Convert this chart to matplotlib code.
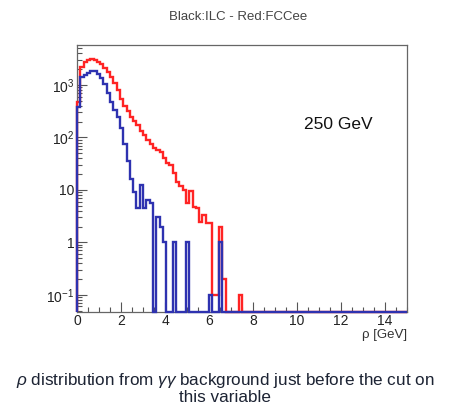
import numpy as np
import matplotlib
matplotlib.use("Agg")
import matplotlib.pyplot as plt
from matplotlib.ticker import FixedLocator, FixedFormatter, MultipleLocator, NullFormatter

plt.rcParams['font.family'] = ['Liberation Sans', 'DejaVu Sans']
plt.rcParams['mathtext.fontset'] = 'custom'
plt.rcParams['mathtext.rm'] = 'Liberation Sans'
plt.rcParams['mathtext.it'] = 'Liberation Sans:italic'

# histogram binning (rho in GeV)
bin_lo, bin_hi, n_bins = 0.0, 15.0, 100

# ILC (blue) per-bin contents
ilc = [380, 1400, 1550, 1700, 1850, 1820, 1650, 1350, 1050, 700,
       480, 330, 250, 150, 75, 35, 16, 9, 4.6, 12.6,
       4.6, 6.4, 5.6, 0, 3, 2, 1, 0, 0, 1,
       0, 0, 0, 1, 0, 0, 0, 0, 0, 0,
       0.1, 0, 0, 1, 0, 0, 0, 0, 0, 0,
       0, 0, 0, 0, 0, 0, 0, 0, 0, 0,
       0, 0, 0, 0, 0, 0, 0, 0, 0, 0,
       0, 0, 0, 0, 0, 0, 0, 0, 0, 0,
       0, 0, 0, 0, 0, 0, 0, 0, 0, 0,
       0, 0, 0, 0, 0, 0, 0, 0, 0, 0]

# FCCee (red) per-bin contents
fccee = [480, 2200, 2700, 3050, 3200, 3050, 2800, 2500, 2150, 1750,
         1400, 1100, 800, 550, 400, 320, 250, 210, 170, 135,
         110, 90, 75, 62, 58, 52, 40, 33, 30, 21,
         14, 12, 10, 5.6, 9.5, 4.7, 4.5, 2.4, 3.3, 2.3,
         2.3, 0.1, 0.1, 2, 0.2, 0, 0, 0, 0, 0.1,
         0, 0, 0, 0, 0, 0, 0, 0, 0, 0,
         0, 0, 0, 0, 0, 0, 0, 0, 0, 0,
         0, 0, 0, 0, 0, 0, 0, 0, 0, 0,
         0, 0, 0, 0, 0, 0, 0, 0, 0, 0,
         0, 0, 0, 0, 0, 0, 0, 0, 0, 0]

ytick_vals = [0.1, 1, 10, 100, 1000]
ytick_labels = ['$10^{-1}$', '1', '10', '$10^{2}$', '$10^{3}$']
xtick_vals = [0, 2, 4, 6, 8, 10, 12, 14]

title = 'Black:ILC - Red:FCCee'
energy_label = '250 GeV'
xlabel = 'ρ [GeV]'
caption = '$\\rho$ distribution from $\\gamma\\gamma$ background just before the cut on\nthis variable'

YMIN, YMAX = 0.047, 5800

W, H = 449, 411
fig = plt.figure(figsize=(W / 100, H / 100), dpi=100)
ax = fig.add_axes([77 / W, 1 - 312 / H, 330 / W, 267 / H])

edges = np.linspace(bin_lo, bin_hi, n_bins + 1)
red_c = '#ff2424'
blue_c = '#2e32b0'
ax.stairs(np.maximum(np.array(fccee, float), YMIN), edges, baseline=YMIN,
          color=red_c, lw=1.7, clip_on=False, zorder=3)
ax.stairs(np.maximum(np.array(ilc, float), YMIN), edges, baseline=YMIN,
          color=blue_c, lw=1.7, clip_on=False, zorder=4)

ax.set_yscale('log')
ax.set_xlim(0, 15)
ax.set_ylim(YMIN, YMAX)

ax.yaxis.set_major_locator(FixedLocator(ytick_vals))
ax.yaxis.set_major_formatter(FixedFormatter(ytick_labels))
minor = [m * 10.0 ** e for e in range(-2, 4) for m in range(2, 10)]
ax.yaxis.set_minor_locator(FixedLocator(minor))
ax.yaxis.set_minor_formatter(NullFormatter())

ax.xaxis.set_major_locator(FixedLocator(xtick_vals))
ax.xaxis.set_minor_locator(MultipleLocator(0.5))

ax.tick_params(which='both', direction='in', top=False, right=False,
               colors='#555555', labelcolor='#222222', labelsize=10)
ax.tick_params(which='major', length=7, width=0.8)
ax.tick_params(which='minor', length=3.5, width=0.8)
ax.tick_params(axis='x', pad=1.5)
ax.tick_params(axis='y', pad=2)
for s in ax.spines.values():
    s.set_color('#666666')
    s.set_linewidth(0.9)

ax.text(10.3, 173, energy_label, fontsize=12.5, color='#111111', va='center', ha='left')

fig.text(407 / W, 1 - 335 / H, xlabel, ha='right', va='center', fontsize=9.5, color='#333333')
fig.text(238 / W, 1 - 17 / H, title, ha='center', va='center', fontsize=9.5, color='#444444')
fig.text(225 / W, 1 - 388 / H, caption, ha='center', va='center', fontsize=12.3,
         color='#1c2333', linespacing=1.0)

fig.savefig('out.png', dpi=100)
